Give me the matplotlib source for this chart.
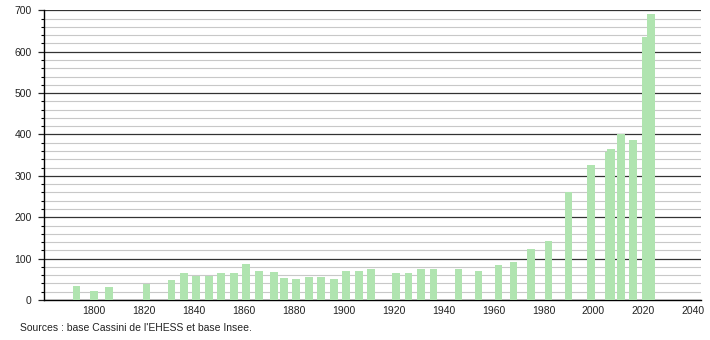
import matplotlib
matplotlib.use("Agg")
import matplotlib.pyplot as plt
from matplotlib.ticker import MultipleLocator

# census years and population
years = [1793, 1800, 1806, 1821, 1831, 1836, 1841, 1846, 1851, 1856,
         1861, 1866, 1872, 1876, 1881, 1886, 1891, 1896, 1901, 1906,
         1911, 1921, 1926, 1931, 1936, 1946, 1954, 1962, 1968, 1975,
         1982, 1990, 1999, 2006, 2007, 2011, 2016, 2021, 2023]
population = [34, 22, 31, 39, 48, 66, 59, 59, 66, 66,
              88, 71, 68, 54, 51, 56, 56, 51, 71, 71,
              74, 66, 66, 74, 74, 74, 71, 85, 92, 123,
              143, 261, 326, 358, 365, 401, 387, 636, 690]
xticks = list(range(1800, 2041, 20))
source = "Sources : base Cassini de l'EHESS et base Insee."

plt.rcParams['font.family'] = ['Liberation Sans', 'DejaVu Sans']

fig = plt.figure(figsize=(7.1, 3.4), dpi=100)
ax = fig.add_axes([0.062, 0.1176, 0.925, 0.852])

ax.bar(years, population, width=3.1, color="#b0e4b0", zorder=3)

ax.set_xlim(1780, 2043)
ax.set_ylim(0, 700)
ax.set_xticks(xticks)
ax.yaxis.set_major_locator(MultipleLocator(100))
ax.yaxis.set_minor_locator(MultipleLocator(20))

ax.grid(axis="y", which="major", color="#333333", linewidth=0.9, zorder=1)
ax.grid(axis="y", which="minor", color="#c8c8c8", linewidth=0.8, zorder=1)

ax.tick_params(axis="x", length=0, pad=4, labelsize=7.5, colors="#222222")
ax.tick_params(axis="y", which="major", length=4, width=0.9, pad=5,
               labelsize=7.5, colors="#222222")
ax.tick_params(axis="y", which="minor", length=2, width=0.8)

for side in ["top", "right"]:
    ax.spines[side].set_visible(False)
ax.spines["left"].set_linewidth(1.0)
ax.spines["bottom"].set_linewidth(1.0)

fig.text(0.028, 0.035, source, fontsize=7.5, color="#222222", va="center")

fig.savefig("out.png", dpi=100)
